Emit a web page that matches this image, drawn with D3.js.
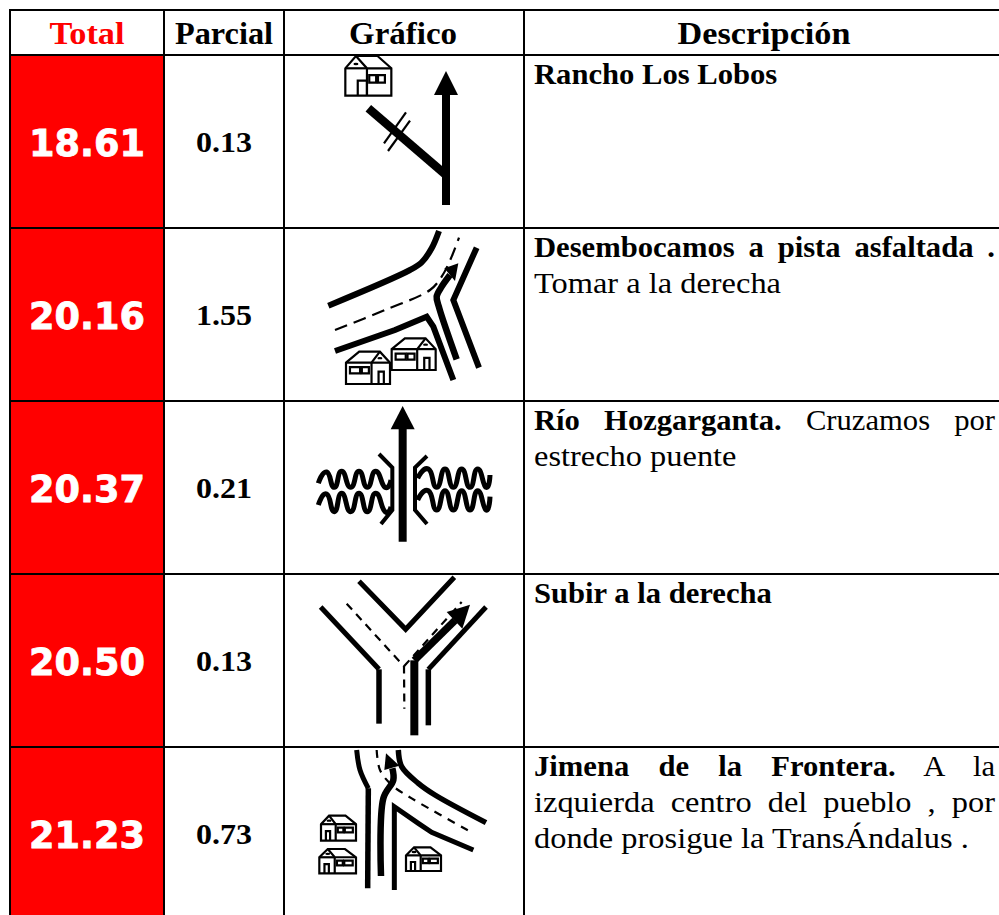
<!DOCTYPE html>
<html><head><meta charset="utf-8">
<script src="https://cdn.jsdelivr.net/npm/d3@7"></script>
<style>html,body{margin:0;padding:0;background:#fff;overflow:hidden}svg{display:block}</style>
</head><body><div id="c"></div>
<script>
const headers = ["Total","Parcial","Gráfico","Descripción"];
const totals = ["18.61","20.16","20.37","20.50","21.23"];
const partials = ["0.13","1.55","0.21","0.13","0.73"];
const descriptions = [
  [{b:1,t:"Rancho Los Lobos"}],
  [{b:1,t:"Desembocamos a pista asfaltada .",j:1},{t:"Tomar a la derecha"}],
  [{b:1,t:"Río Hozgarganta.",j:1,r:" Cruzamos por"},{t:"estrecho puente"}],
  [{b:1,t:"Subir a la derecha"}],
  [{b:1,t:"Jimena de la Frontera.",j:1,r:" A la"},{t:"izquierda centro del pueblo , por",j:1},{t:"donde prosigue la TransÁndalus ."}]
];

const W=999,H=915,SERIF="'Liberation Serif',serif";
const svg=d3.select("#c").append("svg").attr("width",W).attr("height",H);
const colX=[10,164,284,524,1000];
const headTop=10,rowTop=55,rowH=173;
const yRow=d3.scaleLinear().domain([0,1]).range([rowTop,rowTop+rowH]);

svg.selectAll("rect.total").data(totals).join("rect").attr("class","total")
  .attr("x",colX[0]).attr("width",colX[1]-colX[0]).attr("y",(d,i)=>yRow(i)).attr("height",rowH).attr("fill","#f00");

const headW=[75,98,108,173];
svg.selectAll("text.h").data(headers).join("text").attr("class","h").text(d=>d)
  .attr("x",(d,i)=>(colX[i]+colX[i+1])/2-(i==3?-2:0)-(i==2?1:0))
  .attr("y",44).attr("text-anchor","middle").attr("font-family",SERIF).attr("font-weight","bold").attr("font-size",31)
  .attr("fill",(d,i)=>i==0?"#f00":"#000")
  .attr("textLength",(d,i)=>headW[i]).attr("lengthAdjust","spacingAndGlyphs");

svg.selectAll("text.tot").data(totals).join("text").attr("class","tot").text(d=>d)
  .attr("x",87).attr("y",(d,i)=>yRow(i)+100.5).attr("text-anchor","middle")
  .attr("font-family","'DejaVu Sans'").attr("font-weight","bold").attr("font-size",37).attr("fill","#fff")
  .attr("stroke","#fff").attr("stroke-width",0.8)
  .attr("textLength",116).attr("lengthAdjust","spacingAndGlyphs");
svg.selectAll("text.par").data(partials).join("text").attr("class","par").text(d=>d)
  .attr("x",224).attr("y",(d,i)=>yRow(i)+97).attr("text-anchor","middle")
  .attr("font-family",SERIF).attr("font-weight","bold").attr("font-size",29)
  .attr("textLength",56).attr("lengthAdjust","spacingAndGlyphs");

const descX=534,descR=995,lineH=36,KB=1.056,KR=1.118;
descriptions.forEach((lines,ri)=>{
  lines.forEach((ln,li)=>{
    const K=ln.b?KB:KR;
    const t=svg.append("text").attr("class","desc").attr("font-family",SERIF).attr("font-size",29)
      .attr("transform",`translate(${descX},${yRow(ri)+28.5+li*lineH}) scale(${K},1)`).attr("xml:space","preserve");
    t.append("tspan").attr("font-weight",ln.b?"bold":"normal").text(ln.t);
    if(ln.r) t.append("tspan").text(ln.r);
    if(ln.j){
      const nat=t.node().getComputedTextLength();
      const n=(ln.t+(ln.r||"")).split(" ").length-1;
      t.attr("word-spacing",((descR-descX)/K-nat)/n);
    }
  });
});

const ink=svg.append("g").attr("fill","none").attr("stroke","#000");
function iconScales(ox,oy){return [d3.scaleLinear().domain([0,3]).range([ox,ox+1]),d3.scaleLinear().domain([0,3]).range([oy,oy+1])];}
function stroke(o,pts,w,curve,dash){
  const [sx,sy]=o;
  ink.append("path").attr("d",d3.line().x(p=>sx(p[0])).y(p=>sy(p[1])).curve(curve||d3.curveLinear)(pts))
    .attr("stroke-width",w).attr("stroke-dasharray",dash||null);
}
function head(o,pts){
  const [sx,sy]=o;
  ink.append("path").attr("d",d3.line().x(p=>sx(p[0])).y(p=>sy(p[1]))(pts)+"Z").attr("fill","#000").attr("stroke","none");
}
function house(o,x0,y0,w,h,flip,opt){
  opt=opt||{};
  const [sx,sy]=o;
  const X=t=>sx(flip?x0+w-t*w:x0+t*w),Y=t=>sy(y0+t*h);
  const wt=opt.wt||.34,dv=opt.dv||.58,dr=opt.door||[.74,.86],w1=opt.w1||[.09,.32],w2=opt.w2||[.36,.52];
  const g=svg.append("g").attr("fill","#fff").attr("stroke","#000").attr("stroke-width",2.2);
  const l=a=>d3.line().x(p=>X(p[0])).y(p=>Y(p[1]))(a);
  g.append("path").attr("d",l([[0,wt],[.3,0],[.77,0],[1,wt],[1,1],[0,1]])+"Z");
  g.append("path").attr("fill","none").attr("d",l([[0,wt],[dv,wt],[.77,0]]));
  g.append("path").attr("fill","none").attr("d",l([[dv,wt],[dv,1]]));
  g.append("path").attr("fill","none").attr("d",l([[dv,wt],[1,wt]]));
  g.append("path").attr("fill","none").attr("d",l([[dr[0],1],[dr[0],.62],[dr[1],.62],[dr[1],1]]));
  g.append("path").attr("d",l([[w1[0],.48],[w1[1],.48],[w1[1],.67],[w1[0],.67]])+"Z");
  g.append("path").attr("d",l([[w2[0],.48],[w2[1],.48],[w2[1],.67],[w2[0],.67]])+"Z");
  g.append("ellipse").attr("cx",X(.77)).attr("cy",Y(.2)).attr("rx",2.5).attr("ry",1.2).attr("fill","#000").attr("stroke","none");
}
const cr=d3.curveCatmullRom;

{const o=iconScales(0,0);
 stroke(o,[[1338,615],[1338,270]],8);
 head(o,[[1338,213],[1374,285],[1302,285]]);
 stroke(o,[[1105,325],[1338,525]],8.5);
 stroke(o,[[1152,430],[1218,337]],2.2);
 stroke(o,[[1164,453],[1230,362]],2.2);
 house(o,1036,168,138,119,true,{door:[.53,.73],dv:.53,w1:[.14,.29],w2:[.33,.48],wt:.31});
}
{const o=iconScales(285,225);
 stroke(o,[[130,242],[375,135],[410,112],[440,70],[462,18]],6,cr);
 stroke(o,[[150,315],[300,255],[435,195],[470,155],[500,95],[522,38]],2.2,cr,"13 7");
 stroke(o,[[150,378],[330,315],[425,275],[445,305],[505,465]],6);
 stroke(o,[[575,68],[505,225],[582,428]],6);
 stroke(o,[[515,403],[463,250],[455,215],[470,185],[495,150]],6.5,cr);
 head(o,[[520,115],[510,168],[478,130]]);
 house(o,320,340,132,95,false);
 house(o,183,380,132,97,false);
}
{const o=iconScales(285,400);
 stroke(o,[[353,425],[353,80]],8);
 head(o,[[353,18],[389,88],[317,88]]);
 stroke(o,[[282,162],[322,203],[322,330],[288,372]],4);
 stroke(o,[[426,168],[390,203],[390,330],[426,372]],4);
 const wave=[
  [[100,250],[125,216],[148,262],[170,214],[197,262],[222,214],[247,262],[272,214],[300,262],[318,240]],
  [[100,315],[125,282],[148,335],[170,280],[197,335],[222,280],[247,335],[272,280],[300,335],[318,320]],
  [[398,235],[430,207],[455,262],[480,207],[505,262],[530,207],[555,262],[578,207],[603,262],[615,225]],
  [[398,300],[430,272],[455,330],[480,272],[505,330],[530,272],[555,330],[578,272],[603,330],[615,290]]];
 wave.forEach(w=>stroke(o,w,5,d3.curveCardinal.tension(-0.7)));
}
{const o=iconScales(285,572);
 stroke(o,[[222,28],[362,172],[508,16]],5);
 stroke(o,[[107,105],[282,292]],5);
 stroke(o,[[282,292],[282,455]],5.5);
 stroke(o,[[603,105],[430,292]],5);
 stroke(o,[[430,292],[430,460]],5.5);
 stroke(o,[[185,95],[357,283],[358,410]],2.2,null,"8 6");
 stroke(o,[[357,283],[530,90]],2.2,null,"8 6");
 stroke(o,[[388,490],[388,265]],8);
 stroke(o,[[388,265],[510,145]],7.5);
 head(o,[[555,98],[532,170],[485,120]]);
}
{const o=iconScales(285,745);
 stroke(o,[[215,15],[225,75],[250,130]],5,cr);
 stroke(o,[[250,130],[248,430]],5.5);
 stroke(o,[[340,15],[350,65],[400,115],[450,150],[603,233]],5.5,cr);
 stroke(o,[[328,435],[328,185],[400,235],[440,262],[565,315]],5);
 stroke(o,[[275,15],[285,75],[320,120],[380,160],[560,262]],2.2,cr,"8 7");
 stroke(o,[[288,393],[295,160],[325,105],[322,70]],6.5,cr);
 head(o,[[303,25],[343,62],[298,75]]);
 house(o,108,212,105,75,true);
 house(o,103,312,110,73,true);
 house(o,363,307,105,71,true);
}

const grid=svg.append("g").attr("stroke","#000").attr("stroke-width",2);
const hLines=[headTop,rowTop,...d3.range(1,5).map(i=>yRow(i))];
grid.selectAll("line.hl").data(hLines).join("line").attr("class","hl")
  .attr("x1",colX[0]-1).attr("x2",W).attr("y1",d=>d).attr("y2",d=>d);
grid.selectAll("line.vl").data(colX.slice(0,4)).join("line").attr("class","vl")
  .attr("x1",d=>d).attr("x2",d=>d).attr("y1",headTop).attr("y2",H);
</script></body></html>
